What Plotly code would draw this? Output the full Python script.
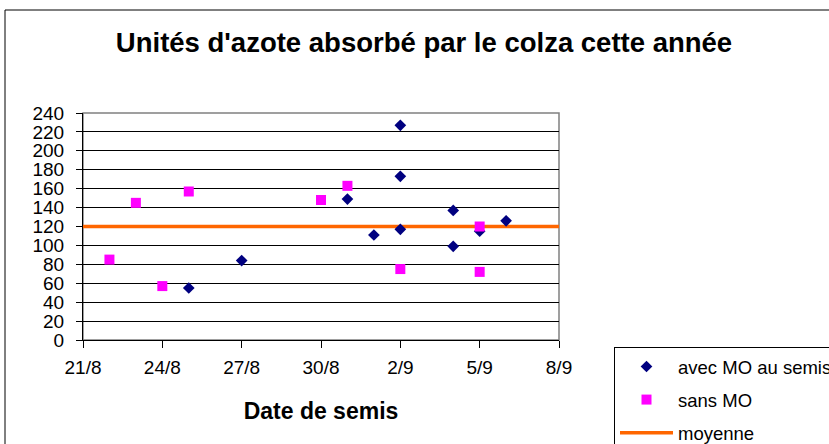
import plotly.graph_objects as go

# Data
avec_dates = ["2007-08-25", "2007-08-27", "2007-08-31", "2007-09-01", "2007-09-02",
              "2007-09-02", "2007-09-02", "2007-09-04", "2007-09-04", "2007-09-05", "2007-09-06"]
avec_values = [55, 84, 149, 111, 227, 173, 117, 137, 99, 115, 126]

sans_dates = ["2007-08-22", "2007-08-23", "2007-08-24", "2007-08-25", "2007-08-30",
              "2007-08-31", "2007-09-02", "2007-09-05", "2007-09-05"]
sans_values = [85, 145, 57, 157, 148, 163, 75, 120, 72]

moyenne_dates = ["2007-08-21", "2007-09-08"]
moyenne_values = [120, 120]

x_ticks = ["2007-08-21", "2007-08-24", "2007-08-27", "2007-08-30", "2007-09-02", "2007-09-05", "2007-09-08"]
x_ticktext = ["21/8", "24/8", "27/8", "30/8", "2/9", "5/9", "8/9"]

FONT = "Liberation Sans, Arial, sans-serif"

fig = go.Figure()
# mean line drawn first so markers sit on top of it
fig.add_trace(go.Scatter(
    x=moyenne_dates, y=moyenne_values, mode="lines", name="moyenne",
    line=dict(color="#FF6600", width=3.5), legendgroup="c", legendrank=3))
fig.add_trace(go.Scatter(
    x=avec_dates, y=avec_values, mode="markers", name="avec MO au semis",
    marker=dict(symbol="diamond", size=9, color="#000080"),
    legendgroup="a", legendrank=1, cliponaxis=False))
fig.add_trace(go.Scatter(
    x=sans_dates, y=sans_values, mode="markers", name="sans MO",
    marker=dict(symbol="square", size=10, color="#FF00FF"),
    legendgroup="b", legendrank=2, cliponaxis=False))

W, H = 829, 444
L, T, R, B = 83, 113, W - 559, H - 340

fig.update_layout(
    width=W, height=H,
    margin=dict(l=L, r=R, t=T, b=B, autoexpand=False),
    paper_bgcolor="white", plot_bgcolor="white",
    font=dict(family=FONT, color="black"),
    title=dict(text="Unités d'azote absorbé par le colza cette année",
               font=dict(family=FONT, size=27.5, weight="bold", color="black"),
               x=424 / W, xanchor="center", xref="container",
               y=1 - 42 / H, yanchor="middle", yref="container"),
    showlegend=True,
    legend=dict(x=(614 - 83) / 476, y=(340 - 347) / 227, xanchor="left", yanchor="top",
                bordercolor="black", borderwidth=1, bgcolor="white",
                font=dict(family=FONT, size=18.5, color="black"),
                traceorder="grouped", tracegroupgap=6, itemwidth=53,
                entrywidth=260, entrywidthmode="pixels"),
    xaxis=dict(type="date", range=["2007-08-21", "2007-09-08"],
               tickmode="array", tickvals=x_ticks, ticktext=x_ticktext,
               showgrid=False, zeroline=False,
               showline=True, linecolor="black", linewidth=1,
               ticks="outside", ticklen=7, tickcolor="black", tickwidth=1,
               ticklabelstandoff=3,
               tickfont=dict(family=FONT, size=19, color="black"),
               title=dict(text="Date de semis", standoff=26,
                          font=dict(family=FONT, size=23, weight="bold", color="black"))),
    yaxis=dict(range=[0, 240], tickmode="linear", tick0=0, dtick=20,
               showgrid=True, gridcolor="black", gridwidth=1, zeroline=False,
               showline=True, linecolor="black", linewidth=1,
               ticks="outside", ticklen=6, tickcolor="black", tickwidth=1,
               ticklabelstandoff=8,
               tickfont=dict(family=FONT, size=19, color="black")),
    shapes=[
        # plot area border (grey top/right)
        dict(type="rect", xref="paper", yref="paper", x0=0, x1=1, y0=0, y1=1,
             line=dict(color="#808080", width=1.5), layer="below"),
        # outer chart frame (continues beyond the right and bottom edges)
        dict(type="rect", xref="paper", yref="paper",
             x0=(5 - 83) / 476, x1=(900 - 83) / 476,
             y0=(340 - 500) / 227, y1=(340 - 10) / 227,
             line=dict(color="black", width=1), layer="below"),
    ],
)

fig.write_html("out.html", config={"displayModeBar": False},
               post_script="document.body.style.margin='0';document.body.style.overflow='hidden';")
